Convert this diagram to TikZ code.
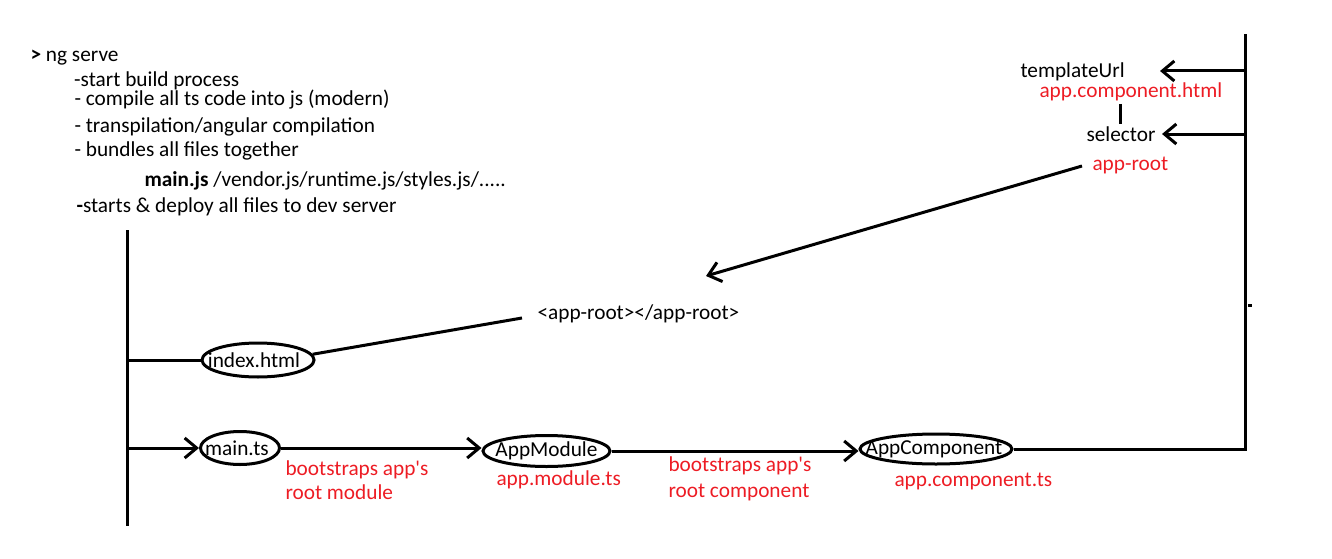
\documentclass[tikz,border=0pt]{standalone}
\usepackage{fontspec}
\newfontfamily\cf{Carlito}
\usetikzlibrary{arrows.meta,shapes.geometric}
\definecolor{pred}{RGB}{237,28,36}
\begin{document}
\begin{tikzpicture}[x=1pt,y=-1pt,line width=3pt,
  txt/.style={font=\cf\fontsize{21.3}{25}\selectfont, inner sep=0pt, anchor=base west},
  rtxt/.style={txt, text=pred},
  ctxt/.style={font=\cf\fontsize{21.3}{25}\selectfont, inner sep=0pt},
  ell/.style={draw, ellipse, inner sep=0pt, line width=3pt},
  arr/.style={-{Straight Barb[length=12pt,width=20pt,line width=3pt]}}]
\useasboundingbox (0,0) rectangle (1332,559);
% left text block
\node[txt] (t1) at (29,62) {\textbf{>} ng serve};
\node[txt] (t2) at (72.7,87) {-start build process};
\node[txt] (t3) at (73,106) {- compile all ts code into js (modern)};
\node[txt] (t4) at (73,132) {- transpilation/angular compilation};
\node[txt] (t5) at (73,157) {- bundles all files together};
\node[txt] (t6) at (143,186) {\textbf{main.js} /vendor.js/runtime.js/styles.js/.....};
\node[txt] (t7) at (75,212) {\textbf{-}starts \& deploy all files to dev server};
% right text block
\node[txt] (tu) at (1019,78) {templateUrl};
\node[rtxt] (ach) at (1038,98) {app.component.html};
\node[txt] (sel) at (1085,141) {selector};
\node[rtxt] (aroot) at (1091,170) {app-root};
\node[txt] (tag) at (536,319) {<app-root></app-root>};
% ellipses
\node[ell, minimum width=112pt, minimum height=34pt, label={[ctxt,xshift=-4pt]center:index.html}] (idx) at (258,360) {};
\node[ell, minimum width=79pt, minimum height=33pt, label={[ctxt,xshift=-3pt]center:main.ts}] (mts) at (240,448) {};
\node[ell, minimum width=127pt, minimum height=31pt, label={[ctxt]center:AppModule}] (amod) at (546.5,451) {};
\node[ell, minimum width=152pt, minimum height=30pt, label={[ctxt,xshift=-2pt]center:AppComponent}] (acomp) at (936,449) {};
% red labels
\node[rtxt] (b1a) at (284,475) {bootstraps app's};
\node[rtxt] (b1b) at (284,499) {root module};
\node[rtxt] (amts) at (495,485) {app.module.ts};
\node[rtxt] (b2a) at (667,471) {bootstraps app's};
\node[rtxt] (b2b) at (667,497) {root component};
\node[rtxt] (acts) at (893,486) {app.component.ts};
% coordinates
\coordinate (L1) at (127,230);
\coordinate (L2) at (127,526);
\coordinate (R1) at (1245,34);
\coordinate (tuT) at (1160,71);
\coordinate (selT) at (1162,134);
\coordinate (arS) at (1082,166);
\coordinate (arT) at (706,276);
\coordinate (tagW) at (522,318);
\coordinate (bar1) at (1120,104);
\coordinate (bar2) at (1120,124);
% connectors
\draw (L1) -- (L2);
\draw (idx.west -| L1) -- (idx.west);
\draw[arr] (mts.west -| L1) -- (mts.west);
\draw[arr] (mts.east) -- (mts.east -| amod.west);
\draw[arr] (amod.east) -- (amod.east -| acomp.west);
\draw (acomp.east) -| (R1);
\draw[arr] (tuT -| R1) -- (tuT);
\draw[arr] (selT -| R1) -- (selT);
\draw (bar1) -- (bar2);
\draw[arr] (arS) -- (arT);
\draw (idx.6) -- (tagW);
\fill (1248,304) rectangle (1252,307);
\end{tikzpicture}
\end{document}
